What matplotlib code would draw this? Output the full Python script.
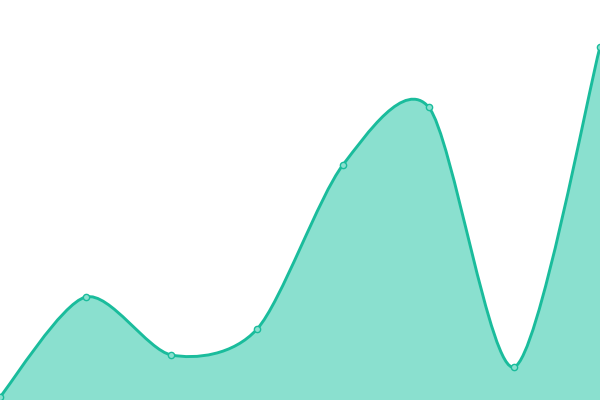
import matplotlib
matplotlib.use("Agg")
import matplotlib.pyplot as plt
from matplotlib.path import Path
from matplotlib.patches import PathPatch

# data
x_vals = [0, 1, 2, 3, 4, 5, 6, 7]
y_vals = [3, 103, 45, 71, 235, 293, 33, 353]

line_color = "#1abc9c"
fill_color = "#8ae0cf"
smooth = 0.14


def smooth_path(xs, ys):
    # catmull-rom style curve as cubic bezier segments
    n = len(xs)
    verts = [(xs[0], ys[0])]
    codes = [Path.MOVETO]
    for i in range(n - 1):
        x0, y0 = xs[max(i - 1, 0)], ys[max(i - 1, 0)]
        x1, y1 = xs[i], ys[i]
        x2, y2 = xs[i + 1], ys[i + 1]
        x3, y3 = xs[min(i + 2, n - 1)], ys[min(i + 2, n - 1)]
        c1 = (x1 + (x2 - x0) * smooth, y1 + (y2 - y0) * smooth)
        c2 = (x2 - (x3 - x1) * smooth, y2 - (y3 - y1) * smooth)
        verts += [c1, c2, (x2, y2)]
        codes += [Path.CURVE4] * 3
    return verts, codes


verts, codes = smooth_path(x_vals, y_vals)

fig = plt.figure(figsize=(6, 4), dpi=100)
ax = fig.add_axes([0, 0, 1, 1])

area_verts = verts + [(x_vals[-1], 0), (x_vals[0], 0), (x_vals[0], y_vals[0])]
area_codes = codes + [Path.LINETO, Path.LINETO, Path.CLOSEPOLY]
ax.add_patch(PathPatch(Path(area_verts, area_codes), facecolor=fill_color, edgecolor="none"))
ax.add_patch(PathPatch(Path(verts, codes), facecolor="none", edgecolor=line_color, lw=2.1))
ax.plot(x_vals, y_vals, "o", ms=4.5, mfc=fill_color, mec=line_color, mew=1, clip_on=True)

ax.set_xlim(0, 7)
ax.set_ylim(0, 400)
ax.axis("off")

fig.savefig("out.png", dpi=100)
